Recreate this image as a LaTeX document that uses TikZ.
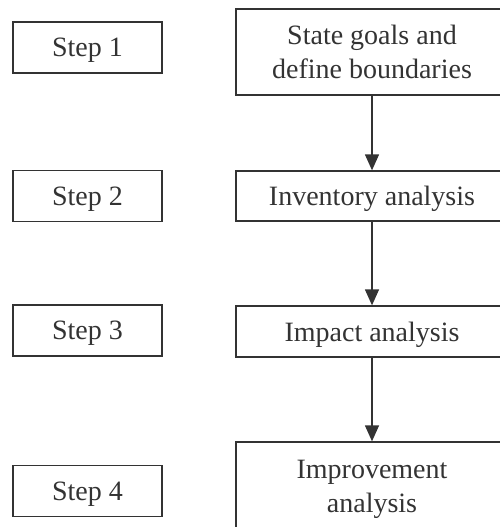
\documentclass[tikz,border=0pt]{standalone}
\usepackage{fontspec}
\setmainfont{Liberation Serif}
\usetikzlibrary{positioning, arrows.meta}
\definecolor{ink}{HTML}{333333}
\tikzset{schritt/.style={rectangle,draw=ink,line width=1.3pt,minimum width=149pt,minimum height=51pt,inner sep=0,text depth=0pt},
	phase/.style={rectangle,draw=ink,line width=1.3pt,minimum width=272pt,align=center,inner sep=0,text depth=0pt},
	pfeil/.style={draw=ink,line width=1.3pt,-{Triangle[width=14pt,length=16pt]}} }

\begin{document}
\begin{tikzpicture}
	[x=1pt, y=-1pt, text=ink, font=\fontsize{28}{34}\selectfont]
	\useasboundingbox (0,0) rectangle (500,527);

	% left column: step labels
	\node (s1) [schritt] at (87.5,47.5) {Step 1};
	\node (s2) [schritt] at (87.5,196) {Step 2};
	\node (s3) [schritt] at (87.5,330.5) {Step 3};
	\node (s4) [schritt] at (87.5,491) {Step 4};

	% right column: phases
	\node (p1) [phase, minimum height=86pt] at (372,52) {State goals and\\define boundaries};
	\node (p2) [phase, minimum height=50pt] at (372,196) {Inventory analysis};
	\node (p3) [phase, minimum height=51pt] at (372,331.5) {Impact analysis};
	\node (p4) [phase, minimum height=88pt] at (372,486) {Improvement\\analysis};

	\draw [pfeil] (p1) -- (p2);
	\draw [pfeil] (p2) -- (p3);
	\draw [pfeil] (p3) -- (p4);
\end{tikzpicture}
\end{document}
